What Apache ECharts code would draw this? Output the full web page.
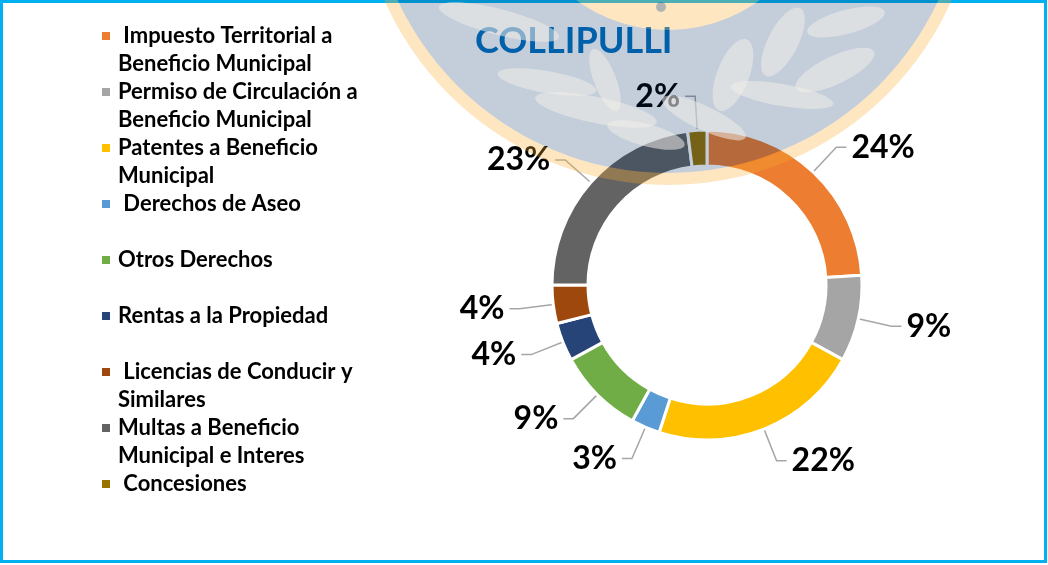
<!DOCTYPE html>
<html>
<head>
<meta charset="utf-8">
<style>
    html, body { margin: 0; padding: 0; background: #fff; }
    #chart { width: 1048px; height: 565px; }
</style>
<script src="https://cdn.jsdelivr.net/npm/echarts@6/dist/echarts.min.js"></script>
</head>
<body>
<div id="chart"></div>
<script>
const categories = [
    ' Impuesto Territorial a\nBeneficio Municipal',
    'Permiso de Circulación a\nBeneficio Municipal',
    'Patentes a Beneficio\nMunicipal',
    ' Derechos de Aseo',
    'Otros Derechos',
    'Rentas a la Propiedad',
    ' Licencias de Conducir y\nSimilares',
    'Multas a Beneficio\nMunicipal e Interes',
    ' Concesiones'
];
const values = [24, 9, 22, 3, 9, 4, 4, 23, 2];
const colors = ['#ED7D31', '#A5A5A5', '#FFC000', '#5B9BD5', '#70AD47', '#264478', '#9E480E', '#636363', '#997300'];
const chartTitle = 'COLLIPULLI';

// marca de agua (escudo) que cubre la parte superior
const wmX = 668, wmY = -125;
const leaves = [
    [499, 22, 62, 13, 0.25],
    [547, 82, 50, 11, 0.17],
    [596, 110, 62, 13, 0.2],
    [605, 80, 33, 11, 1.2],
    [646, 135, 40, 11, 0.26],
    [733, 75, 38, 16, -1.2],
    [783, 42, 38, 15, -1.1],
    [846, 22, 40, 12, -0.26],
    [835, 70, 43, 14, -0.44],
    [782, 95, 52, 11, 0.17],
    [704, 118, 46, 12, 0.44]
];

function buildWatermark() {
    let els = [
        {
            type: 'ring',
            z: 100,
            silent: true,
            shape: { cx: wmX, cy: wmY, r: 298, r0: 155 },
            style: { fill: 'rgba(0,43,99,0.23)' }
        },
        {
            type: 'ring',
            z: 100,
            silent: true,
            shape: { cx: wmX, cy: wmY, r: 310, r0: 298 },
            style: { fill: 'rgba(248,172,45,0.3)' }
        },
        {
            type: 'circle',
            z: 100,
            silent: true,
            shape: { cx: wmX, cy: wmY, r: 155 },
            style: { fill: 'rgba(248,172,45,0.3)' }
        },
        {
            type: 'circle',
            z: 101,
            silent: true,
            shape: { cx: 661, cy: 7, r: 5 },
            style: { fill: 'rgba(0,70,150,0.3)' }
        }
    ];
    leaves.map(l => {
        els.push({
            type: 'ellipse',
            z: 101,
            silent: true,
            x: l[0],
            y: l[1],
            rotation: -l[4],
            shape: { cx: 0, cy: 0, rx: l[2], ry: l[3] },
            style: { fill: 'rgba(240,236,232,0.55)' }
        });
    });
    return els;
}

let chart = echarts.init(document.getElementById('chart'));
chart.setOption({
    backgroundColor: '#fff',
    color: colors,
    animation: false,
    title: {
        text: chartTitle,
        left: 470,
        top: 18,
        textStyle: {
            fontFamily: 'Lato',
            fontSize: 36,
            fontWeight: 'bold',
            color: '#0070C0'
        }
    },
    legend: {
        orient: 'vertical',
        left: 97,
        top: 17,
        itemGap: 0,
        itemWidth: 11,
        itemHeight: 36,
        // cuadro arriba: el marcador queda en la primera linea del texto
        icon: 'path://M0,0h8v8h-8z M11,36h0.01v0.01h-0.01z',
        itemStyle: { borderWidth: 0 },
        data: categories,
        formatter: name => name.indexOf('\n') < 0 ? name + '\n ' : name,
        textStyle: {
            fontFamily: 'Lato',
            fontSize: 22,
            fontWeight: 'bold',
            lineHeight: 28,
            color: '#000'
        }
    },
    graphic: [
        {
            type: 'rect',
            z: 10,
            silent: true,
            shape: { x: 1.5, y: 1.5, width: 1044, height: 560 },
            style: { fill: 'none', stroke: '#00B0F0', lineWidth: 3 }
        }
    ].concat(buildWatermark()),
    series: [
        {
            name: chartTitle,
            type: 'pie',
            center: [707, 285],
            radius: [119, 155],
            startAngle: 90,
            clockwise: true,
            avoidLabelOverlap: true,
            itemStyle: {
                borderColor: '#fff',
                borderWidth: 3
            },
            label: {
                show: true,
                position: 'outside',
                formatter: p => Math.round(p.percent) + '%',
                fontFamily: 'Lato',
                fontSize: 32,
                fontWeight: 'bold',
                color: '#000'
            },
            labelLine: {
                show: true,
                length: 34,
                length2: 10,
                lineStyle: { color: '#A6A6A6', width: 1.5 }
            },
            data: categories.map((c, i) => ({ name: c, value: values[i] }))
        }
    ]
});
</script>
</body>
</html>
